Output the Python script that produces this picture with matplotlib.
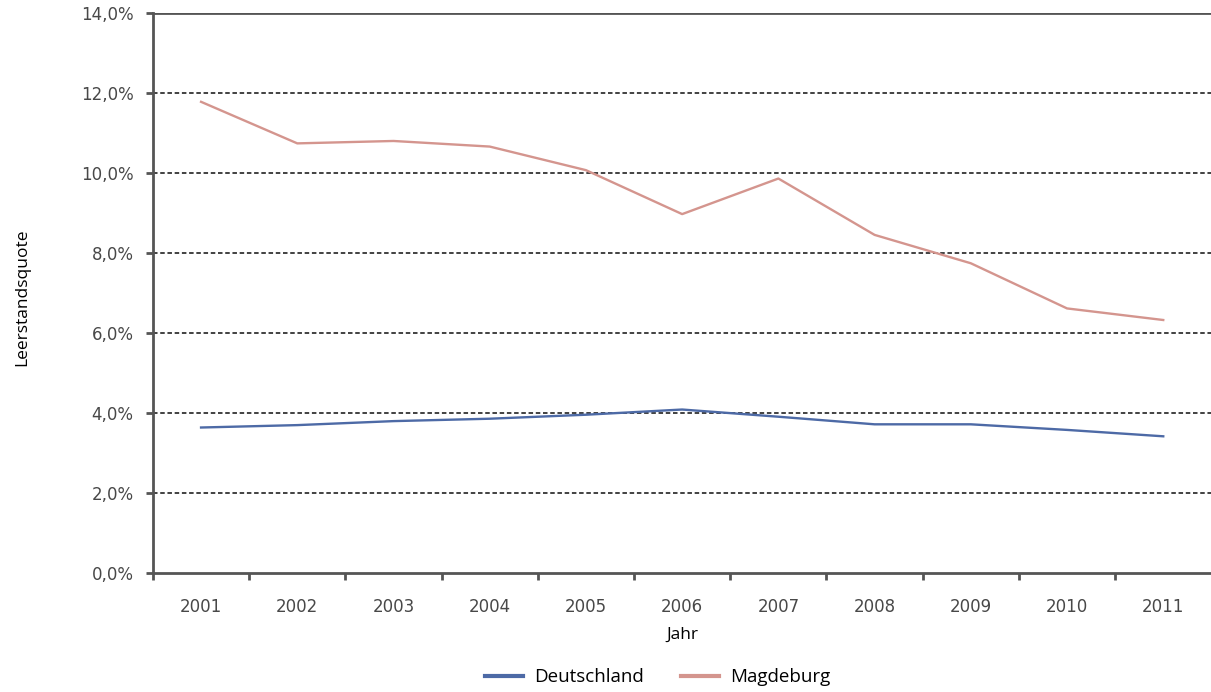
import matplotlib
matplotlib.use("Agg")
import matplotlib.pyplot as plt
from matplotlib.ticker import FixedLocator, FuncFormatter
from matplotlib.lines import Line2D

years = ["2001", "2002", "2003", "2004", "2005", "2006", "2007", "2008", "2009", "2010", "2011"]
deutschland = [3.64, 3.70, 3.80, 3.86, 3.96, 4.09, 3.91, 3.72, 3.72, 3.58, 3.42]
magdeburg = [11.79, 10.75, 10.81, 10.67, 10.08, 8.98, 9.87, 8.46, 7.75, 6.62, 6.33]
y_ticks = [0, 2, 4, 6, 8, 10, 12, 14]

blue = "#4d6aa6"
salmon = "#d4958e"
axis_grey = "#555555"
label_grey = "#484848"

fig = plt.figure(figsize=(12.11, 6.92), dpi=100)
ax = fig.add_axes([0.1263, 0.172, 0.874, 0.8085])

x = list(range(len(years)))
ax.plot(x, deutschland, color=blue, lw=1.7, solid_joinstyle="round", zorder=3)
ax.plot(x, magdeburg, color=salmon, lw=1.7, solid_joinstyle="round", zorder=3)

ax.set_xlim(-0.5, len(years) - 0.5)
ax.set_ylim(0, 14)

# horizontal dashed gridlines
for v in y_ticks[1:-1]:
    ax.axhline(v, color="#333333", lw=1.3, ls=(0, (2.5, 1.5)), zorder=1)
ax.axhline(14, color=axis_grey, lw=2.0, zorder=2)

for s in ("right", "top"):
    ax.spines[s].set_visible(False)
for s in ("left", "bottom"):
    ax.spines[s].set_color(axis_grey)
    ax.spines[s].set_linewidth(2.0)

ax.yaxis.set_major_locator(FixedLocator(y_ticks))
ax.yaxis.set_major_formatter(FuncFormatter(lambda v, p: f"{v:.1f}%".replace(".", ",")))

# category boundary ticks with centered labels
ax.xaxis.set_major_locator(FixedLocator([i - 0.5 for i in range(len(years))]))
ax.xaxis.set_major_formatter(FuncFormatter(lambda v, p: ""))
ax.set_xticks(x, years, minor=True)

ax.tick_params(axis="y", direction="out", length=5, width=2, color=axis_grey,
               labelsize=12, labelcolor=label_grey, pad=9,
               labelfontfamily="DejaVu Sans")
ax.tick_params(axis="x", which="major", direction="out", length=5, width=2, color=axis_grey)
ax.tick_params(axis="x", which="minor", length=0, labelsize=12, labelcolor=label_grey,
               pad=18, labelfontfamily="DejaVu Sans")

ax.set_xlabel("Jahr", fontsize=12.5, family="Open Sans", labelpad=8)
fig.text(0.018, 0.57, "Leerstandsquote", rotation=90, fontsize=12.5,
         family="Open Sans", ha="center", va="center")

handles = [Line2D([], [], color=blue, lw=3), Line2D([], [], color=salmon, lw=3)]
fig.legend(handles, ["Deutschland", "Magdeburg"], loc="center", bbox_to_anchor=(0.543, 0.021),
           ncol=2, frameon=False, prop={"family": "Open Sans", "size": 13.5},
           handlelength=2.0, columnspacing=2.0, handletextpad=0.6)

fig.savefig("out.png", dpi=100)
